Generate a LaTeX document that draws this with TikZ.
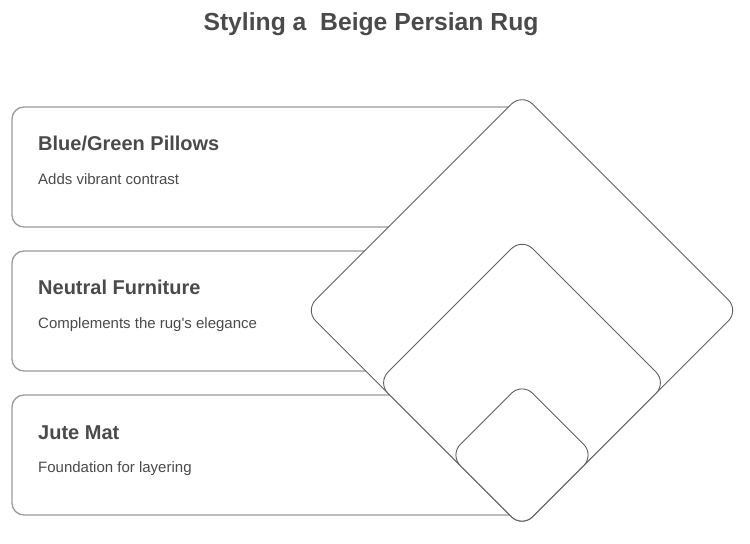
\documentclass[tikz,border=0pt]{standalone}
\usepackage{fontspec}
\setmainfont{Liberation Sans}[Ligatures=TeXOff]
\definecolor{txt}{HTML}{4A4A4A}
\definecolor{boxline}{HTML}{9A9A9A}
\definecolor{dline}{HTML}{606060}
\begin{document}
\begin{tikzpicture}[x=1bp,y=-1bp,
  card/.style={draw=boxline,line width=1.3bp,rounded corners=12bp},
  rug/.style={draw=dline,line width=0.9bp,fill=white,rounded corners=15bp},
  head/.style={anchor=base west,text=txt,font=\fontsize{20bp}{24bp}\selectfont\bfseries,inner sep=0pt},
  sub/.style={anchor=base west,text=txt,font=\fontsize{15bp}{18bp}\selectfont,inner sep=0pt}]
\useasboundingbox (0,0) rectangle (750,544);
\node[anchor=base,text=txt,font=\fontsize{24.7bp}{29bp}\selectfont\bfseries,inner sep=0pt] (title) at (371,31) {Styling a\ \ Beige Persian Rug};
% cards
\draw[card] (12,107) rectangle (528,227);
\draw[card] (12,251) rectangle (528,371);
\draw[card] (12,395) rectangle (528,515);
\node[head] (h1) at (38,151) {Blue/Green Pillows};
\node[sub] (s1) at (38,184.5) {Adds vibrant contrast};
\node[head] (h2) at (38,295) {Neutral Furniture};
\node[sub] (s2) at (38,328.5) {Complements the rug's elegance};
\node[head] (h3) at (38,439) {Jute Mat};
\node[sub] (s3) at (38,472.5) {Foundation for layering};
% nested diamonds sharing bottom vertex
\def\bx{522}\def\by{527.3}\def\st{72.3}
\draw[rug] (\bx,\by) -- (\bx+3*\st,\by-3*\st) -- (\bx,\by-6*\st) -- (\bx-3*\st,\by-3*\st) -- cycle;
\draw[rug] (\bx,\by) -- (\bx+2*\st,\by-2*\st) -- (\bx,\by-4*\st) -- (\bx-2*\st,\by-2*\st) -- cycle;
\draw[rug] (\bx,\by) -- (\bx+\st,\by-\st) -- (\bx,\by-2*\st) -- (\bx-\st,\by-\st) -- cycle;
\end{tikzpicture}
\end{document}
